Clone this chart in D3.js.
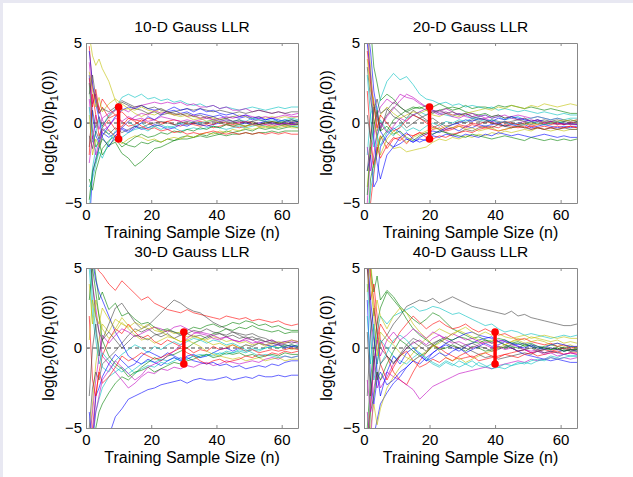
<!DOCTYPE html>
<html>
<head>
<meta charset="utf-8">
<script src="https://cdn.jsdelivr.net/npm/d3@7"></script>
<style>
  body { margin: 0; background: #fff; }
  svg text { font-family: "Liberation Sans", Arial, sans-serif; fill: #000; }
</style>
</head>
<body>
<script>
var nGrid = [1,2,3,4,5,7,9,11,13,15,17,19,21,23,25,27,29,31,33,35,37,39,41,43,45,47,49,51,53,55,57,59,61,63,65];

var titles = ["10-D Gauss LLR", "20-D Gauss LLR", "30-D Gauss LLR", "40-D Gauss LLR"];
var barN = [10, 20, 30, 40];
var barLo = -1, barHi = 1;
var xTicks = [0, 20, 40, 60];
var yTicks = [-5, 0, 5];

var llr10 = [
  [-6.5,-3.2,-2.2,-1.5,-0.8, -0.2,0.4,0.8,1.0,0.9, 1.1,0.9,0.8,0.9,0.7, 0.8,0.6,0.7,0.5,0.6, 0.5,0.4,0.5,0.3,0.4, 0.3,0.4,0.2,0.3,0.2, 0.3,0.2,0.1,0.2,0.1],
  [2.5,-0.5,-1.5,-1.2,-2.0, -1.4,-1.2,-1.9,-2.2,-2.7, -2.4,-2.0,-1.6,-1.5,-1.3, -1.1,-1.0,-1.0,-0.9,-0.8, -0.9,-0.8,-0.7,-0.8,-0.7, -0.7,-0.6,-0.7,-0.6,-0.6, -0.5,-0.6,-0.5,-0.5,-0.5],
  [4.8,2.2,1.5,0.6,1.0, 0.3,0.5,0.1,-0.2,-0.1, 0.2,0.0,-0.2,-0.1,0.1, -0.1,-0.2,0.0,-0.1,-0.2, -0.1,-0.3,-0.2,-0.1,-0.2, -0.3,-0.2,-0.1,-0.2,-0.1, -0.2,-0.1,-0.2,-0.1,-0.1],
  [-5.5,-2.8,-1.6,-0.9,-0.2, 0.5,0.9,1.6,1.8,1.6, 1.8,1.5,1.6,1.4,1.5, 1.3,1.4,1.2,1.1,1.2, 1.0,1.1,0.9,1.0,0.9, 0.8,0.9,1.0,0.9,0.8, 0.9,1.0,0.9,1.0,1.0],
  [1.5,-1.0,0.5,-0.4,0.3, 0.6,0.8,0.9,0.7,1.0, 1.1,1.2,1.3,1.2,1.3, 1.2,1.3,1.1,1.2,1.0, 1.0,1.1,0.9,1.0,0.8, 0.8,0.9,0.7,0.8,0.7, 0.6,0.7,0.6,0.5,0.6],
  [5.5,4.2,3.6,4.0,3.4, 2.6,1.4,0.8,0.9,0.6, 0.4,0.6,0.5,0.7,0.6, 0.5,0.4,0.5,0.4,0.3, 0.4,0.3,0.2,0.3,0.4, 0.5,0.4,0.3,0.4,0.3, 0.4,0.3,0.4,0.3,0.4],
  [-1.5,0.8,-0.3,0.4,-0.2, 0.4,0.8,1.3,1.1,0.9, 0.8,0.6,0.7,0.5,0.6, 0.7,0.8,0.9,0.8,0.9, 0.8,0.7,0.8,0.7,0.6, 0.7,0.6,0.7,0.8,0.7, 0.6,0.7,0.6,0.7,0.7],
  [3.0,0.5,-0.8,-1.2,-0.6, -0.9,-0.6,-0.3,-0.5,-0.2, -0.4,-0.3,-0.1,-0.2,-0.4, -0.3,-0.1,-0.2,0.0,-0.1, -0.2,-0.1,0.0,-0.1,0.0, -0.1,0.0,-0.1,0.0,0.1, 0.0,-0.1,0.0,-0.1,-0.1],
  [-3.5,-4.2,-3.0,-2.3,-1.6, -1.1,-0.8,-1.2,-1.4,-1.5, -1.2,-1.3,-1.1,-1.2,-1.0, -1.1,-0.9,-0.8,-0.9,-0.7, -0.8,-0.6,-0.7,-0.5,-0.6, -0.5,-0.4,-0.5,-0.3,-0.4, -0.3,-0.4,-0.3,-0.2,-0.3],
  [-2.0,1.8,0.5,-0.8,-0.3, 0.2,-0.4,-0.2,0.3,0.2, 0.1,0.3,0.2,0.0,0.1, 0.2,0.1,-0.1,0.0,0.1, 0.0,-0.1,0.1,0.0,-0.1, 0.0,0.1,0.0,-0.1,0.0, 0.1,0.0,-0.1,0.0,0.0],
  [-4.0,-3.5,-2.6,-1.8,-2.2, -1.2,-0.5,-0.3,0.1,-0.2, 0.0,-0.3,-0.2,-0.4,-0.2, -0.3,-0.5,-0.4,-0.3,-0.4, -0.3,-0.2,-0.3,-0.4,-0.3, -0.2,-0.3,-0.2,-0.1,-0.2, -0.3,-0.2,-0.1,-0.2,-0.2],
  [3.8,1.2,1.8,0.9,0.2, -0.5,-0.8,-0.3,0.1,0.4, 0.6,0.5,0.8,0.6,0.7, 0.5,0.6,0.4,0.5,0.3, 0.4,0.2,0.3,0.4,0.3, 0.4,0.5,0.4,0.3,0.4, 0.3,0.4,0.5,0.4,0.4],
  [0.5,-2.0,-1.0,-1.5,-0.8, -0.4,-0.9,-1.3,-1.0,-0.8, -0.9,-1.1,-1.0,-1.2,-1.0, -0.9,-1.0,-0.8,-0.9,-0.7, -0.6,-0.7,-0.5,-0.6,-0.4, -0.5,-0.3,-0.4,-0.3,-0.2, -0.3,-0.2,-0.1,-0.2,-0.1],
  [-0.8,-1.6,-0.5,-1.0,-0.4, -0.7,-0.3,-0.6,-0.4,-0.2, -0.3,-0.1,0.0,0.1,0.0, -0.1,0.0,0.1,0.0,-0.1, 0.0,0.1,0.0,0.1,0.0, 0.1,0.0,0.1,0.2,0.1, 0.0,0.1,0.0,0.1,0.1],
  [4.5,2.5,1.2,0.3,-0.9, -1.5,-0.8,-0.4,-0.6,-0.3, 0.0,0.4,0.2,0.5,0.8, 1.0,0.8,0.9,0.7,0.9, 0.7,0.8,0.6,0.5,0.6, 0.4,0.5,0.3,0.4,0.2, 0.3,0.1,0.2,0.0,0.1],
  [-4.8,-3.0,-2.4,-1.6,-1.0, -1.4,-1.0,-1.5,-1.2,-0.9, -0.7,-0.9,-0.8,-0.6,-0.7, -0.5,-0.6,-0.4,-0.5,-0.3, -0.4,-0.2,-0.3,-0.1,-0.2, -0.1,-0.2,0.0,-0.1,0.0, 0.1,0.0,0.1,0.2,0.1],
  [2.8,1.0,2.1,0.8,1.5, 0.9,0.5,0.7,0.3,0.1, -0.2,-0.4,-0.3,-0.5,-0.4, -0.6,-0.5,-0.7,-0.6,-0.7, -0.6,-0.5,-0.6,-0.7,-0.6, -0.7,-0.6,-0.7,-0.6,-0.7, -0.6,-0.7,-0.6,-0.7,-0.7],
  [1.0,-1.2,-0.6,0.2,-0.3, -0.7,-1.1,-0.9,-0.6,-0.4, -0.3,-0.5,-0.2,-0.1,-0.3, -0.2,0.0,-0.1,0.1,0.0, 0.1,0.2,0.1,0.2,0.1, 0.2,0.1,0.3,0.2,0.1, 0.2,0.1,0.2,0.3,0.2],
  [-2.5,-0.8,-2.0,-1.2,-0.5, -0.2,0.3,0.1,0.4,0.2, 0.3,0.1,0.2,0.4,0.3, 0.2,0.1,0.2,0.1,0.2, 0.3,0.2,0.1,0.2,0.1, 0.0,0.1,-0.1,0.0,-0.1, 0.0,-0.1,0.0,-0.1,0.0],
  [3.2,2.0,1.0,1.6,0.7, 1.2,1.5,1.2,0.9,0.8, 1.0,0.8,0.7,0.9,0.7, 0.5,0.6,0.4,0.2,0.3, 0.1,0.2,0.0,-0.1,0.0, -0.1,-0.2,-0.1,-0.2,-0.3, -0.2,-0.3,-0.2,-0.3,-0.3],
  [1.8,3.0,1.6,0.6,0.9, 0.7,1.0,1.4,1.2,1.0, 1.1,0.9,1.0,0.8,0.7, 0.6,0.5,0.6,0.4,0.5, 0.3,0.4,0.2,0.3,0.1, 0.2,0.0,0.1,-0.1,0.0, -0.1,0.0,-0.1,0.0,-0.1]
];

var llr20 = [
  [6.0,4.5,2.0,0.8,-0.5, -1.2,-1.5,-1.3,-1.0,-1.2, -0.9,-0.7,-0.5,-0.6,-0.4, -0.3,-0.5,-0.2,-0.3,-0.1, -0.2,-0.1,0.0,-0.2,-0.1, -0.2,-0.1,-0.3,-0.2,-0.1, -0.2,-0.3,-0.2,-0.3,-0.2],
  [7.0,6.0,3.5,2.5,1.4, 1.8,1.5,1.0,0.7,0.9, 1.0,0.8,0.6,0.8,0.9, 1.0,0.9,1.1,0.9,1.0, 1.0,0.9,1.1,1.0,1.1, 1.0,0.9,1.0,0.9,0.8, 0.9,0.8,0.7,0.6,0.6],
  [-6.5,-5.0,-3.2,-1.5,-0.8, -1.6,-1.0,-0.9,-1.3,-0.8, -0.6,-0.7,-0.4,-0.3,-0.5, -0.4,-0.2,-0.3,-0.1,-0.2, -0.3,-0.2,-0.3,-0.1,-0.2, -0.3,-0.2,-0.4,-0.3,-0.2, -0.3,-0.4,-0.3,-0.2,-0.3],
  [-2.0,0.5,1.2,0.8,1.5, 2.6,3.1,2.7,2.9,2.4, 1.8,1.5,1.4,1.2,1.3, 1.1,1.2,1.0,1.1,1.0, 0.9,1.0,0.8,0.9,0.8, 0.7,0.8,0.7,0.6,0.7, 0.6,0.5,0.6,0.5,0.5],
  [5.5,3.0,1.2,0.5,1.0, 1.5,1.2,1.8,1.6,1.5, 1.2,1.0,0.8,0.7,0.9, 0.7,0.5,0.6,0.4,0.5, 0.3,0.4,0.5,0.3,0.4, 0.5,0.4,0.3,0.4,0.3, 0.2,0.3,0.2,0.1,0.2],
  [-4.0,-1.5,-2.8,-2.0,-0.8, -1.2,-1.6,-1.5,-1.8,-1.7, -1.6,-1.5,-1.2,-1.0,-1.1, -0.9,-1.0,-0.8,-0.9,-0.7, -0.8,-0.6,-0.7,-0.5,-0.6, -0.5,-0.4,-0.5,-0.3,-0.4, -0.5,-0.4,-0.5,-0.4,-0.4],
  [3.5,1.5,0.2,-0.8,-0.2, 0.5,1.0,0.6,0.3,0.8, 0.5,0.2,-0.2,-0.4,-0.6, -0.8,-0.6,-0.4,-0.5,-0.3, -0.2,-0.3,-0.1,-0.2,0.0, -0.1,0.0,-0.1,0.0,-0.1, 0.0,-0.1,0.0,-0.1,-0.1],
  [-3.0,-2.0,-4.0,-3.6,-1.5, -0.8,-0.3,-0.6,-1.0,-1.2, -1.0,-1.1,-0.8,-0.9,-0.7, -0.8,-0.9,-0.7,-0.8,-0.9, -0.7,-0.8,-0.6,-0.7,-0.8, -0.7,-0.8,-0.9,-0.8,-0.7, -0.8,-0.9,-0.8,-0.9,-0.9],
  [-7.0,-3.5,-2.5,-1.8,-1.0, -0.5,0.2,0.5,0.8,1.0, 0.9,1.1,1.0,1.2,1.0, 0.8,0.9,0.7,0.6,0.5, 0.6,0.4,0.5,0.3,0.4, 0.2,0.3,0.1,0.2,0.0, 0.1,0.0,0.1,0.2,0.1],
  [2.0,-1.0,-2.6,-1.5,-2.2, -1.4,-0.9,-1.1,-0.7,-0.8, -0.6,-0.9,-1.0,-0.8,-0.9, -0.7,-0.6,-0.5,-0.6,-0.4, -0.3,-0.4,-0.5,-0.4,-0.3, -0.2,-0.3,-0.2,-0.3,-0.4, -0.3,-0.2,-0.3,-0.2,-0.3],
  [-7.0,-4.2,-3.0,-1.0,0.2, -0.5,-0.8,-0.2,0.3,0.5, 0.7,0.5,0.8,0.6,0.5, 0.4,0.6,0.5,0.3,0.4, 0.5,0.3,0.4,0.2,0.3, 0.4,0.2,0.3,0.4,0.3, 0.2,0.3,0.2,0.3,0.3],
  [-5.0,-2.0,-0.8,0.5,-0.3, 0.4,0.9,1.4,1.8,1.6, 1.3,1.0,0.8,0.6,0.7, 0.5,0.6,0.4,0.3,0.2, 0.3,0.1,0.0,0.1,-0.1, 0.0,0.1,0.2,0.1,0.0, 0.1,0.0,-0.1,0.0,0.0],
  [4.0,2.0,1.5,-0.5,0.5, 1.0,0.6,0.3,0.5,0.7, 0.6,0.8,0.5,0.4,0.6, 0.5,0.4,0.6,0.7,0.8, 0.9,0.8,1.0,0.9,1.1, 1.0,0.9,1.1,1.0,1.2, 1.1,1.0,1.1,1.2,1.1],
  [0.5,-1.0,1.0,0.3,-0.5, 0.8,1.3,1.0,0.7,0.5, 0.3,0.1,0.3,0.0,-0.2, -0.1,0.1,0.0,0.2,0.1, 0.0,0.2,0.1,0.0,0.1, 0.2,0.1,0.0,0.1,0.2, 0.1,0.2,0.1,0.0,0.1],
  [5.0,3.0,-1.0,-2.5,-3.5, -2.0,-1.5,-0.9,-0.6,-1.0, -1.2,-1.0,-0.7,-0.5,-0.3, -0.1,0.0,0.2,0.1,0.3, 0.2,0.1,0.3,0.2,0.4, 0.3,0.2,0.1,0.2,0.1, 0.0,0.1,-0.1,0.0,-0.1],
  [-4.5,-1.5,-0.2,0.8,-0.5, -0.2,-0.7,-0.5,-0.9,-1.1, -0.8,-0.6,-0.7,-0.5,-0.6, -0.7,-0.8,-0.9,-0.7,-0.8, -0.9,-1.0,-0.9,-0.8,-0.9, -1.0,-1.1,-0.9,-1.0,-1.1, -1.0,-1.1,-1.0,-1.1,-1.0],
  [4.5,2.5,1.0,-0.3,0.5, 0.0,-0.5,-0.3,0.2,0.5, 0.3,0.0,-0.3,-0.1,-0.4, -0.3,-0.1,-0.2,0.0,-0.1, 0.1,0.0,-0.1,0.1,0.0, -0.1,0.0,-0.2,-0.1,0.0, -0.1,0.0,-0.1,0.0,0.0],
  [3.0,0.5,-1.5,-0.8,-1.4, -0.6,-0.4,-0.1,-0.5,-0.3, -0.5,-0.2,0.0,-0.2,0.1, 0.0,0.2,0.1,0.3,0.2, 0.1,0.2,0.0,0.1,-0.1, 0.0,-0.1,0.1,0.0,-0.1, 0.0,0.1,0.0,-0.1,0.0],
  [-1.5,-3.0,-2.0,-0.5,0.0, -0.6,-0.2,0.3,0.1,0.5, 0.7,0.9,0.7,0.5,0.6, 0.4,0.3,0.5,0.6,0.4, 0.5,0.3,0.4,0.5,0.3, 0.2,0.3,0.1,0.2,0.0, 0.1,-0.1,0.0,-0.1,-0.1],
  [6.0,3.5,0.0,-1.0,-2.0, -1.0,-0.5,-0.8,-1.2,-0.9, -0.7,-0.5,-0.3,-0.4,-0.2, -0.3,-0.2,-0.4,-0.3,-0.5, -0.4,-0.3,-0.5,-0.4,-0.3, -0.2,-0.1,0.0,-0.1,0.1, 0.0,0.1,0.2,0.1,0.2],
  [-3.0,-1.0,0.8,1.5,0.6, 0.9,0.4,0.2,-0.3,0.0, 0.3,0.5,0.7,0.8,0.6, 0.7,0.5,0.6,0.4,0.3, 0.2,0.0,-0.1,-0.2,-0.3, -0.2,-0.3,-0.4,-0.3,-0.4, -0.3,-0.4,-0.3,-0.4,-0.4]
];

var llr30 = [
  [-8.0,-7.0,-6.5,-6.0,-5.8, -5.5,-4.3,-3.8,-3.2,-3.0, -2.8,-2.6,-2.5,-2.3,-2.2, -2.1,-2.0,-2.2,-2.0,-1.9, -2.0,-2.0,-1.9,-1.8,-2.0, -1.9,-1.8,-1.9,-1.7,-1.8, -1.8,-1.7,-1.8,-1.7,-1.7],
  [8.0,6.0,4.5,3.0,3.5, 2.4,2.8,2.0,2.2,1.8, 1.5,1.6,1.3,1.1,1.2, 1.0,0.9,1.1,1.3,1.2, 1.4,1.5,1.3,1.4,1.6, 1.5,1.7,1.6,1.4,1.5, 1.3,1.4,1.2,1.1,1.1],
  [8.0,6.0,5.2,4.8,4.6, 4.0,3.6,4.2,3.8,3.4, 3.0,3.2,2.8,2.6,2.4, 2.3,2.2,2.4,2.2,2.1, 2.0,1.9,1.8,2.0,1.9, 1.8,1.9,1.7,1.8,1.7, 1.6,1.7,1.5,1.4,1.5],
  [-8.0,-6.0,-4.0,-3.2,-2.5, -1.8,-1.5,-1.2,-1.6,-1.3, -1.0,-0.8,-0.9,-0.7,-0.8, -0.6,-0.8,-0.7,-0.5,-0.6, -0.4,-0.5,-0.3,-0.4,-0.3, -0.2,-0.3,-0.1,-0.2,0.0, 0.1,0.0,0.2,0.1,0.2],
  [7.0,4.0,2.5,1.0,-0.5, -1.0,-1.5,-2.0,-2.5,-2.2, -1.8,-1.5,-1.6,-1.3,-1.4, -1.2,-1.3,-1.1,-1.2,-1.0, -0.9,-1.1,-1.0,-0.8,-0.9, -1.0,-0.9,-0.8,-0.9,-0.7, -0.6,-0.7,-0.5,-0.6,-0.5],
  [-6.0,-3.5,-1.0,0.5,1.5, 1.0,1.8,1.5,1.3,1.6, 1.4,1.2,1.3,1.0,1.1, 0.9,1.0,0.7,0.8,0.6, 0.5,0.7,0.6,0.4,0.5, 0.3,0.4,0.2,0.3,0.1, 0.2,0.0,0.1,-0.1,0.0],
  [6.5,4.0,2.0,1.0,0.5, 1.5,2.5,2.8,2.2,1.6, 1.2,1.4,1.8,2.2,2.6, 3.0,2.8,2.5,2.3,2.2, 1.9,1.6,1.4,1.2,1.0, 0.9,0.8,0.9,0.7,0.6, 0.4,0.3,0.2,0.1,0.0],
  [8.0,5.5,4.2,3.5,3.0, 2.0,1.0,0.3,-0.5,-0.8, -1.0,-0.7,-0.9,-1.1,-0.8, -0.6,-0.8,-0.5,-0.4,-0.6, -0.5,-0.3,-0.1,0.0,-0.2, 0.0,0.2,0.1,0.3,0.2, 0.1,0.2,0.0,0.1,0.1],
  [-8.0,-6.5,-5.0,-4.0,-3.5, -2.8,-2.2,-1.8,-2.0,-1.6, -1.2,-0.9,-0.6,-0.8,-0.5, -0.4,-0.2,0.0,0.3,0.5, 0.7,0.9,1.0,1.2,1.1, 1.3,1.2,1.4,1.2,1.1, 1.0,1.1,0.9,1.0,1.0],
  [-7.0,-5.0,-3.0,-1.5,-0.5, 0.5,1.2,0.9,1.5,1.0, 0.6,0.8,0.4,0.2,0.5, 0.3,0.1,0.0,-0.3,-0.1, -0.2,0.1,-0.1,0.0,0.2, 0.0,-0.2,-0.1,-0.3,-0.2, -0.1,-0.2,-0.1,0.0,-0.1],
  [5.0,2.0,0.5,-1.0,-0.3, -0.8,-1.2,-1.5,-1.2,-1.6, -1.3,-1.1,-1.2,-0.9,-1.0, -0.8,-0.6,-0.7,-0.5,-0.4, -0.5,-0.3,-0.4,-0.2,-0.3, -0.1,-0.2,0.0,-0.1,0.0, 0.1,0.0,0.1,0.2,0.1],
  [-6.0,-4.0,-2.0,-0.5,0.8, 0.3,0.8,1.2,1.0,0.7, 0.9,1.1,1.3,1.2,1.0, 1.3,1.4,1.2,1.0,0.9, 0.8,0.6,0.5,0.7,0.5, 0.4,0.5,0.3,0.4,0.2, 0.3,0.2,0.3,0.4,0.3],
  [4.0,1.5,3.0,2.0,1.2, 0.6,1.0,1.6,1.2,0.8, 0.5,0.6,0.3,0.5,0.7, 0.6,0.4,0.5,0.3,0.1, -0.2,-0.4,-0.5,-0.6,-0.7, -0.6,-0.8,-0.7,-0.6,-0.8, -0.7,-0.6,-0.8,-0.7,-0.7],
  [-5.0,-2.5,-1.5,-2.0,-1.0, -0.6,-0.2,0.3,0.8,1.2, 1.0,1.2,0.9,0.7,0.9, 0.6,0.8,0.9,0.7,0.8, 0.6,0.8,0.9,0.8,1.0, 0.8,0.6,0.7,0.5,0.4, 0.5,0.3,0.4,0.3,0.4],
  [-4.0,-6.0,-3.0,-2.5,-1.8, -1.0,-0.4,-0.8,-1.2,-1.0, -0.5,-0.2,-0.4,-0.6,-0.3, -0.5,-0.7,-0.6,-0.8,-0.9, -1.0,-0.9,-1.1,-1.0,-1.2, -1.1,-1.3,-1.2,-1.1,-1.2, -1.0,-1.1,-0.9,-0.8,-0.8],
  [3.0,5.0,3.5,2.0,0.5, -0.5,-1.0,-1.3,-1.8,-1.5, -1.4,-1.2,-1.5,-1.3,-1.1, -0.9,-1.0,-0.8,-0.7,-0.5, -0.4,-0.6,-0.5,-0.3,-0.4, -0.3,-0.5,-0.4,-0.6,-0.5, -0.4,-0.5,-0.3,-0.4,-0.4],
  [2.0,-2.0,-3.0,-1.5,-2.2, -1.8,-1.2,-0.5,-0.8,-0.6, -0.3,-0.5,-0.7,-0.6,-0.4, -0.2,0.0,-0.3,-0.5,-0.8, -1.0,-0.8,-0.7,-0.9,-0.8, -0.7,-0.5,-0.6,-0.4,-0.5, -0.3,-0.4,-0.2,-0.3,-0.2],
  [6.0,3.0,1.0,0.0,-1.2, -1.5,-0.8,-0.4,-0.1,0.2, 0.0,-0.3,0.1,-0.1,0.2, 0.4,0.2,0.4,0.6,0.5, 0.3,0.5,0.4,0.2,0.3, 0.1,-0.1,-0.3,-0.5,-0.4, -0.5,-0.6,-0.5,-0.6,-0.5],
  [-7.5,-5.5,-4.0,-3.0,-2.0, -1.4,-0.8,-1.2,-1.6,-2.0, -1.7,-1.2,-1.0,-0.8,-0.5, -0.2,0.2,0.6,0.9,1.0, 0.9,0.8,0.6,0.7,0.5, 0.4,0.6,0.5,0.3,0.4, 0.5,0.3,0.4,0.5,0.4],
  [0.5,3.0,2.0,1.5,2.5, 1.8,1.2,1.9,1.4,1.0, 1.2,1.5,1.1,1.0,0.8, 0.6,0.4,0.5,0.7,0.6, 0.4,0.2,0.3,0.1,0.2, 0.0,0.2,0.1,0.3,0.2, 0.3,0.4,0.3,0.5,0.4],
  [-3.0,0.0,1.5,-0.5,0.5, 1.0,0.5,0.0,0.4,0.8, 0.7,0.5,0.8,0.9,1.1, 1.0,0.8,0.9,1.1,1.0, 1.2,1.0,0.9,0.7,0.8, 0.6,0.7,0.5,0.6,0.4, 0.3,0.2,0.1,0.2,0.1]
];

var llr40 = [
  [-8.0,-6.5,-5.5,-4.5,-3.5, -2.8,-2.2,-1.8,-1.2,-0.8, -1.0,-0.6,-0.3,0.0,0.2, 0.0,-0.2,0.1,0.3,0.5, 0.6,0.7,0.4,0.2,0.0, -0.2,-0.4,-0.5,-0.6,-0.7, -0.8,-0.7,-0.8,-0.9,-0.9],
  [7.0,5.0,3.5,4.5,3.0, 3.6,3.2,2.6,2.2,1.8, 1.5,1.8,2.2,2.0,1.6, 1.2,1.0,0.8,0.6,0.7, 0.5,0.3,0.4,0.2,0.1, 0.0,0.2,0.1,-0.1,0.0, -0.1,0.0,-0.2,-0.1,-0.1],
  [5.0,3.0,4.0,2.0,0.5, -0.5,-1.5,-2.0,-2.3,-1.5, -0.8,-0.3,0.2,0.0,-0.3, -0.5,-0.7,-0.6,-0.5,-0.8, -0.7,-0.6,-0.5,-0.4,-0.3, -0.2,-0.1,-0.3,-0.2,-0.1, -0.2,-0.1,0.0,-0.1,0.0],
  [-6.0,-3.0,-1.0,1.0,2.0, 1.5,2.0,2.2,2.4,2.6, 2.3,2.4,2.6,2.5,2.3, 2.1,2.2,2.0,1.8,1.6, 1.4,1.5,1.2,1.0,1.1, 1.0,0.8,0.9,0.8,0.7, 0.6,0.7,0.8,0.7,0.8],
  [6.0,2.0,-1.0,-2.5,-2.0, -1.5,-1.8,-2.0,-2.3,-2.6, -3.2,-2.8,-2.4,-2.2,-2.0, -1.8,-1.6,-1.5,-1.4,-1.3, -1.2,-1.3,-1.1,-1.0,-0.9, -0.8,-0.9,-0.7,-0.8,-0.7, -0.6,-0.7,-0.6,-0.7,-0.6],
  [-7.0,-5.0,-3.5,-4.8,-3.8, -2.5,-1.8,-1.2,-0.8,-0.3, 0.2,0.6,0.9,1.2,1.0, 0.8,1.1,0.9,0.7,0.5, 0.3,0.5,0.4,0.2,0.4, 0.6,0.5,0.7,0.6,0.5, 0.4,0.5,0.3,0.4,0.3],
  [5.0,2.0,0.5,-1.0,0.3, 0.8,1.5,2.0,2.6,2.8, 3.0,2.9,3.1,2.8,3.0, 3.2,3.0,2.8,2.6,2.5, 2.4,2.3,2.2,2.1,2.3, 2.0,2.1,1.9,1.8,1.7, 1.6,1.5,1.4,1.4,1.5],
  [3.0,-2.0,-3.5,-2.0,-1.5, -2.3,-2.0,-1.5,-1.2,-0.8, -0.5,-0.8,-0.3,0.0,0.3, 0.5,0.7,0.9,1.0,0.8, 0.7,0.6,0.4,0.5,0.3, 0.2,0.3,0.1,0.0,-0.1, 0.0,-0.1,-0.2,-0.1,-0.2],
  [-5.0,-2.0,0.0,1.5,2.5, 3.5,3.0,2.5,1.8,1.2, 0.8,0.5,0.2,-0.1,0.0, 0.2,0.0,-0.2,0.1,0.0, -0.2,-0.1,0.1,0.0,0.2, 0.3,0.1,0.2,0.0,0.1, 0.2,0.1,0.0,0.1,0.0],
  [-6.0,-3.5,-1.0,0.5,1.5, 0.8,0.3,1.0,1.5,2.0, 1.6,1.2,1.5,1.7,1.4, 1.2,1.3,1.5,1.2,1.0, 1.2,1.0,0.8,0.9,0.7, 0.5,0.6,0.4,0.3,0.2, 0.3,0.1,0.2,0.0,0.1],
  [4.0,1.0,-2.0,-1.0,0.5, 0.0,-0.5,-0.8,-1.0,-0.6, -0.3,-0.7,-1.0,-1.2,-0.9, -1.1,-0.8,-1.0,-1.2,-0.9, -1.1,-1.3,-1.2,-1.0,-1.1, -0.9,-1.0,-0.8,-0.7,-0.8, -0.6,-0.7,-0.6,-0.5,-0.5],
  [-4.0,-6.0,-2.5,-1.5,-2.5, -1.8,-1.0,-0.5,0.0,0.3, 0.5,0.2,0.6,0.8,0.5, 0.3,0.4,0.2,0.0,0.2, 0.4,0.3,0.5,0.4,0.2, 0.1,-0.1,-0.2,-0.1,-0.3, -0.2,-0.3,-0.4,-0.3,-0.4],
  [7.0,4.0,2.0,3.0,2.0, 1.2,2.0,2.5,2.2,1.5, 1.0,0.6,0.2,-0.2,-0.6, -0.8,-0.6,-0.9,-0.7,-0.5, -0.3,-0.2,0.0,0.2,0.4, 0.5,0.3,0.4,0.5,0.4, 0.2,0.3,0.1,0.2,0.0],
  [-3.0,1.0,2.5,1.0,0.0, -0.5,-1.0,-0.4,0.2,0.6, 0.4,0.1,0.3,0.5,0.7, 0.4,0.2,0.0,-0.2,-0.4, -0.6,-0.5,-0.7,-0.6,-0.5, -0.4,-0.3,-0.4,-0.2,-0.3, -0.2,-0.3,-0.1,-0.2,-0.2],
  [6.0,3.0,1.0,-1.5,-3.0, -1.5,-0.5,-1.0,-0.3,0.0, -0.4,-0.8,-0.6,-0.3,-0.5, -0.2,0.0,-0.3,-0.1,0.1, 0.3,0.1,0.2,0.4,0.3, 0.1,0.0,0.2,0.1,0.0, 0.2,0.3,0.2,0.1,0.1],
  [-7.0,-4.0,-3.0,-1.5,-2.0, -1.0,-0.2,0.5,0.2,-0.2, -0.5,-0.3,0.1,0.4,0.6, 0.5,0.7,0.6,0.4,0.3, 0.5,0.4,0.6,0.5,0.3, 0.4,0.2,0.3,0.1,0.0, -0.1,0.0,-0.2,-0.1,-0.1],
  [8.0,4.5,3.0,1.0,-1.0, -2.0,-1.2,-0.5,-0.2,-0.8, -1.2,-1.0,-0.7,-0.9,-0.6, -0.8,-0.5,-0.3,-0.6,-0.4, -0.3,-0.5,-0.6,-0.4,-0.5, -0.6,-0.4,-0.3,-0.5,-0.4, -0.3,-0.2,-0.4,-0.3,-0.3],
  [2.0,-1.0,1.5,0.0,-1.0, -0.3,0.5,0.8,0.5,0.0, -0.3,-0.6,-0.9,-1.1,-0.8, -1.0,-1.2,-1.0,-0.8,-1.1, -1.2,-1.0,-1.2,-1.3,-1.1, -1.0,-0.9,-1.0,-0.8,-0.7, -0.5,-0.6,-0.4,-0.5,-0.5],
  [-2.0,-4.0,-1.0,0.5,-0.5, 0.5,1.0,0.5,0.8,1.2, 0.9,0.6,1.0,0.8,0.6, 0.9,0.7,0.5,0.6,0.4, 0.2,0.0,0.1,-0.1,0.0, -0.2,-0.1,-0.3,-0.2,-0.4, -0.3,-0.5,-0.4,-0.3,-0.4],
  [3.5,6.0,2.0,-0.5,1.0, 0.5,0.2,-0.3,-0.6,-0.8, -0.5,-0.2,0.1,0.3,0.6, 0.9,1.1,1.3,1.0,0.8, 1.0,0.8,0.9,0.7,0.6, 0.7,0.8,0.6,0.7,0.8, 0.7,0.6,0.7,0.6,0.6],
  [1.0,-3.0,-0.5,-2.0,-1.0, -0.5,-0.9,-0.5,0.0,0.4, 0.1,-0.2,0.2,0.5,0.3, 0.1,0.0,0.2,0.3,0.1, 0.0,-0.2,-0.1,0.1,0.0, -0.2,-0.1,0.0,-0.2,-0.1, 0.0,-0.1,0.0,-0.2,-0.1]
];

var panelData = [llr10, llr20, llr30, llr40];

// MATLAB default line colour order
var lineColors = ["#0000ff", "#008000", "#ff0000", "#00bfbf", "#bf00bf", "#bfbf00", "#404040"];

var W = 633, H = 477;
var panels = [
  {left: 86,  top: 43,  w: 212, h: 160},
  {left: 364, top: 43,  w: 213, h: 160},
  {left: 86,  top: 268, w: 212, h: 160},
  {left: 364, top: 268, w: 213, h: 160}
];

var svg = d3.select("body").append("svg")
  .attr("width", W)
  .attr("height", H);

svg.append("rect").attr("width", W).attr("height", H).attr("fill", "#e8e8f2");
svg.append("rect").attr("x", 3).attr("y", 3).attr("width", W - 3).attr("height", H - 3).attr("fill", "#fff");

panels.forEach(function(p, pi) {
  var x = d3.scaleLinear().domain([0, 65]).range([0, p.w]);
  var y = d3.scaleLinear().domain([-5, 5]).range([p.h, 0]);

  var g = svg.append("g").attr("transform", "translate(" + p.left + "," + p.top + ")");

  g.append("clipPath").attr("id", "clip" + pi)
    .append("rect").attr("width", p.w).attr("height", p.h);

  var plot = g.append("g").attr("clip-path", "url(#clip" + pi + ")");

  // dashed zero reference
  plot.append("line")
    .attr("x1", 0).attr("x2", p.w)
    .attr("y1", y(0)).attr("y2", y(0))
    .attr("stroke", "#444").attr("stroke-width", 1)
    .attr("stroke-dasharray", "4,3");

  var line = d3.line()
    .x(function(d, i) { return x(nGrid[i]); })
    .y(function(d) { return y(d); });

  plot.selectAll("path.trace").data(panelData[pi]).enter()
    .append("path")
    .attr("class", "trace")
    .attr("d", line)
    .attr("fill", "none")
    .attr("stroke", function(d, i) { return lineColors[i % lineColors.length]; })
    .attr("stroke-width", 0.8)
    .attr("stroke-opacity", 0.75);

  // +/- 1 bar
  g.append("line")
    .attr("x1", x(barN[pi])).attr("x2", x(barN[pi]))
    .attr("y1", y(barLo)).attr("y2", y(barHi))
    .attr("stroke", "#ff0000").attr("stroke-width", 3.5);
  g.selectAll("circle.end").data([barLo, barHi]).enter()
    .append("circle")
    .attr("cx", x(barN[pi]))
    .attr("cy", function(d) { return y(d); })
    .attr("r", 3.8)
    .attr("fill", "#ff0000");

  // axes, matlab style: box with ticks pointing in
  var axisStyle = function(sel, labels) {
    sel.selectAll("path.domain").attr("stroke", "#888");
    sel.selectAll(".tick line").attr("stroke", "#888");
    sel.selectAll("text").attr("font-size", "15px").attr("fill", "#000")
      .style("font-family", "'Liberation Sans', Arial, sans-serif");
    if (!labels) sel.selectAll("text").remove();
  };

  g.append("g").attr("transform", "translate(0," + p.h + ")")
    .call(d3.axisBottom(x).tickValues(xTicks).tickSizeInner(-3).tickSizeOuter(0).tickPadding(6))
    .call(axisStyle, true);
  g.append("g")
    .call(d3.axisTop(x).tickValues(xTicks).tickSizeInner(-3).tickSizeOuter(0))
    .call(axisStyle, false);
  g.append("g")
    .call(d3.axisLeft(y).tickValues(yTicks).tickSizeInner(-3).tickSizeOuter(0).tickPadding(4))
    .call(axisStyle, true);
  g.append("g").attr("transform", "translate(" + p.w + ",0)")
    .call(d3.axisRight(y).tickValues(yTicks).tickSizeInner(-3).tickSizeOuter(0))
    .call(axisStyle, false);

  g.append("text")
    .attr("x", p.w / 2).attr("y", -11)
    .attr("text-anchor", "middle")
    .attr("font-size", "15.5px")
    .text(titles[pi]);

  g.append("text")
    .attr("x", p.w / 2).attr("y", p.h + 35)
    .attr("text-anchor", "middle")
    .attr("font-size", "16px")
    .text("Training Sample Size (n)");

  var yl = g.append("text")
    .attr("transform", "translate(-32," + (p.h / 2) + ") rotate(-90)")
    .attr("text-anchor", "middle")
    .attr("font-size", "16px");
  yl.append("tspan").text("log(p");
  yl.append("tspan").attr("font-size", "11px").attr("dy", 4).text("2");
  yl.append("tspan").attr("dy", -4).text("(0)/p");
  yl.append("tspan").attr("font-size", "11px").attr("dy", 4).text("1");
  yl.append("tspan").attr("dy", -4).text("(0))");
});
</script>
</body>
</html>
